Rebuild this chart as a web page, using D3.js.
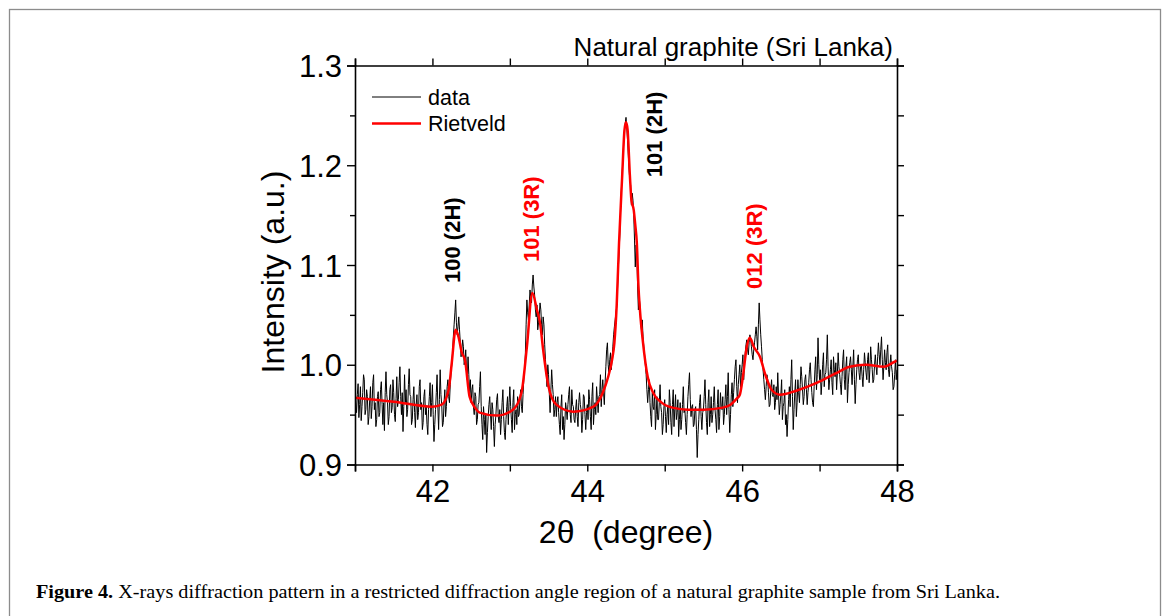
<!DOCTYPE html>
<html><head><meta charset="utf-8">
<script src="https://cdn.jsdelivr.net/npm/d3@7/dist/d3.min.js"></script>
<style>body{margin:0;background:#fff}svg{display:block}</style>
</head><body>
<svg id="c" width="1170" height="616"></svg>
<script>
// 2theta sampled every 0.01 deg from 41.00 to 48.00
const dataStart = 41.0, dataStep = 0.01;
const dataIntensity = [
0.975,0.962,0.952,0.970,0.981,0.947,0.960,0.978,0.944,0.958,0.972,0.990,0.985,0.950,0.955,0.975,0.968,0.940,0.948,0.965,
0.978,0.946,0.958,0.982,0.990,0.955,0.962,0.938,0.945,0.968,0.973,0.948,0.952,0.975,0.983,0.960,0.940,0.962,0.934,0.972,
0.993,0.970,0.962,0.940,0.948,0.975,0.980,0.952,0.957,0.985,0.972,0.950,0.943,0.966,0.988,0.958,0.965,0.982,0.998,0.968,
0.950,0.972,0.933,0.958,0.990,0.962,0.975,0.948,0.955,0.980,0.996,0.970,0.968,0.940,0.945,0.965,0.978,0.952,0.937,0.960,
0.970,0.945,0.952,0.978,0.985,0.955,0.962,0.935,0.942,0.968,0.975,0.950,0.958,0.940,0.930,0.955,0.968,0.982,0.948,0.962,
0.980,0.950,0.923,0.940,0.955,0.972,0.990,0.958,0.935,0.965,0.995,0.970,0.960,0.938,0.942,0.962,0.975,0.948,0.958,0.978,
0.985,0.968,0.962,0.980,0.992,1.000,1.012,1.028,1.040,1.052,1.065,1.042,1.030,1.038,1.048,1.035,1.022,1.008,1.015,1.025,
1.018,1.000,1.005,1.015,0.995,0.985,1.008,0.990,0.972,0.985,0.962,0.975,0.980,0.958,0.950,0.972,0.968,0.940,0.945,0.960,
0.962,0.978,0.993,0.958,0.940,0.925,0.958,0.945,0.930,0.950,0.912,0.932,0.948,0.960,0.968,0.950,0.935,0.962,0.955,0.938,
0.918,0.940,0.950,0.965,0.971,0.948,0.942,0.955,0.930,0.945,0.962,0.975,0.948,0.932,0.925,0.945,0.958,0.968,0.940,0.962,
0.978,0.958,0.945,0.932,0.962,0.975,0.935,0.950,0.955,0.940,0.968,0.948,0.950,0.965,0.975,0.958,0.952,0.970,0.985,0.995,
1.010,1.040,1.065,1.052,1.045,1.060,1.075,1.068,1.062,1.080,1.090,1.078,1.070,1.055,1.048,1.060,1.035,1.042,1.050,1.062,
1.055,1.040,1.030,1.048,1.040,1.020,1.005,0.992,0.978,1.000,0.990,0.970,0.952,0.975,0.995,0.980,0.970,0.948,0.955,0.968,
0.948,0.962,0.968,0.952,0.940,0.930,0.958,0.970,0.935,0.948,0.925,0.940,0.962,0.955,0.945,0.960,0.970,0.978,0.950,0.942,
0.975,0.960,0.958,0.945,0.942,0.955,0.965,0.948,0.938,0.962,0.972,0.960,0.955,0.932,0.945,0.970,0.968,0.950,0.935,0.952,
0.960,0.945,0.975,0.965,0.948,0.935,0.968,0.982,0.940,0.955,0.962,0.950,0.978,0.965,0.952,0.968,0.970,0.990,0.958,0.975,
0.985,0.972,0.960,0.982,0.998,1.015,1.022,1.000,0.990,1.005,1.012,0.995,1.005,1.018,1.030,1.038,1.045,1.052,1.058,1.075,
1.095,1.112,1.130,1.155,1.175,1.192,1.205,1.222,1.235,1.242,1.248,1.238,1.225,1.210,1.195,1.185,1.180,1.160,1.172,1.165,
1.150,1.125,1.098,1.120,1.110,1.078,1.055,1.068,1.060,1.042,1.035,1.045,1.028,1.018,1.010,1.000,0.990,0.975,0.962,0.975,
0.985,0.962,0.948,0.938,0.972,0.958,0.955,0.975,0.935,0.950,0.968,0.945,0.945,0.962,0.980,0.958,0.952,0.930,0.940,0.958,
0.965,0.948,0.932,0.950,0.958,0.940,0.975,0.962,0.942,0.930,0.960,0.975,0.938,0.955,0.970,0.945,0.952,0.965,0.928,0.945,
0.962,0.935,0.945,0.960,0.978,0.952,0.955,0.942,0.930,0.950,0.968,0.980,0.992,0.965,0.948,0.958,0.960,0.938,0.940,0.955,
0.958,0.935,0.907,0.930,0.945,0.962,0.970,0.948,0.935,0.952,0.955,0.968,0.985,0.960,0.942,0.930,0.962,0.975,0.938,0.950,
0.968,0.942,0.950,0.962,0.978,0.955,0.945,0.932,0.960,0.975,0.935,0.948,0.972,0.958,0.955,0.968,0.940,0.950,0.965,0.980,
0.950,0.968,0.992,0.955,0.932,0.950,0.970,0.982,0.958,0.972,0.985,0.998,1.005,0.978,0.962,0.980,0.990,1.000,0.975,0.992,
1.000,1.010,0.985,1.002,1.012,1.020,1.025,1.015,1.010,1.022,1.030,1.025,1.018,1.010,1.005,1.015,1.022,1.030,1.038,1.028,
1.015,1.040,1.062,1.045,1.030,1.018,1.005,0.995,0.985,0.975,0.965,0.978,0.990,0.985,0.972,0.958,0.960,0.975,0.985,0.970,
0.968,0.980,0.955,0.962,0.978,0.965,0.992,0.970,0.950,0.960,0.970,0.985,0.945,0.958,0.962,0.975,0.940,0.950,0.928,0.945,
0.965,0.978,0.958,0.985,1.005,0.968,0.935,0.955,0.972,0.985,0.948,0.962,0.985,0.972,0.962,0.980,0.998,0.988,0.975,0.960,
0.968,0.985,0.990,0.975,0.960,0.972,0.982,0.995,1.002,0.985,0.972,0.962,0.958,0.978,0.995,1.008,0.975,0.990,1.027,1.000,
0.985,0.995,0.970,0.982,1.000,1.012,0.978,0.990,0.992,1.005,1.030,0.998,0.975,0.985,0.995,1.005,0.982,0.970,1.008,0.995,
0.988,1.002,0.975,0.992,1.012,0.998,0.990,0.980,0.970,0.988,1.005,1.015,0.985,0.975,0.998,1.008,0.962,0.980,0.992,1.002,
1.008,0.995,0.980,0.998,1.015,0.985,0.961,0.980,0.995,1.005,1.010,0.992,0.985,0.998,1.000,0.988,0.978,0.995,1.012,1.002,
0.992,0.985,1.005,1.012,0.982,0.995,1.018,1.005,0.995,0.982,0.985,1.000,1.010,0.998,0.990,1.008,1.022,1.010,1.000,1.015,
1.028,1.005,0.985,0.998,1.015,1.002,0.995,1.012,1.020,0.995,0.988,1.000,1.010,0.998,0.992,0.975,0.978,0.990,1.005,0.985,
0.995
];
const rietAngle = [41.0,41.5,42.0,42.12,42.21,42.25,42.30,42.34,42.38,42.42,42.48,42.55,42.61,42.83,43.04,43.15,43.22,43.29,43.35,43.39,43.43,43.50,43.60,43.82,44.08,44.20,44.27,44.32,44.35,44.38,44.41,44.45,44.48,44.50,44.52,44.55,44.57,44.60,44.62,44.64,44.66,44.68,44.72,44.78,44.85,44.96,45.10,45.30,45.50,45.75,45.85,45.93,45.97,46.01,46.06,46.10,46.15,46.23,46.30,46.38,46.49,46.70,46.97,47.20,47.39,47.60,47.83,47.97,48.0];
const rietIntensity = [0.967,0.963,0.958,0.960,0.975,1.002,1.035,1.027,1.012,1.005,0.968,0.957,0.952,0.949,0.955,0.972,1.018,1.072,1.055,1.042,1.015,0.978,0.960,0.953,0.958,0.972,0.988,1.005,1.022,1.060,1.122,1.188,1.235,1.243,1.236,1.190,1.165,1.155,1.140,1.122,1.080,1.055,1.022,0.988,0.972,0.962,0.957,0.955,0.955,0.957,0.960,0.966,0.970,0.988,1.018,1.027,1.018,1.008,0.990,0.975,0.970,0.974,0.982,0.991,0.998,1.000,0.998,1.003,1.004];
const xTicks = [41,42,43,44,45,46,47,48];
const xLabels = [42,44,46,48];
const yTicks = [0.9,0.95,1.0,1.05,1.1,1.15,1.2,1.25,1.3];
const yLabels = [0.9,1.0,1.1,1.2,1.3];
const peakLabels = [
  {text:"100 (2H)", angle:42.26, level:1.082, color:"#000"},
  {text:"101 (3R)", angle:43.29, level:1.103, color:"#ff0000"},
  {text:"101 (2H)", angle:44.87, level:1.188, color:"#000"},
  {text:"012 (3R)", angle:46.17, level:1.076, color:"#ff0000"}
];
const legendItems = [{name:"data", color:"#000", w:1},{name:"Rietveld", color:"#ff0000", w:2.5}];

const svg = d3.select("#c");
const L=355, R=897, T=65.5, B=464.5;
const x = d3.scaleLinear().domain([41,48]).range([L,R]);
const y = d3.scaleLinear().domain([0.9,1.3]).range([B,T]);
const font = "'Liberation Sans', Arial, sans-serif";

// outer frame
svg.append("rect").attr("x",9.5).attr("y",9.5).attr("width",1151).attr("height",640)
  .attr("fill","none").attr("stroke","#8c8c8c").attr("stroke-width",1.3);

svg.append("defs").append("clipPath").attr("id","pc").append("rect")
  .attr("x",L).attr("y",T).attr("width",R-L).attr("height",B-T);

const dataPts = dataIntensity.map((v,i)=>[dataStart+i*dataStep, v]);
const line = d3.line().x(d=>x(d[0])).y(d=>y(d[1]));
svg.append("path").datum(dataPts).attr("clip-path","url(#pc)")
  .attr("d",line).attr("fill","none").attr("stroke","#000").attr("stroke-width",1);

const rietPts = rietAngle.map((a,i)=>[a, rietIntensity[i]]);
svg.append("path").datum(rietPts).attr("clip-path","url(#pc)")
  .attr("d",line.curve(d3.curveMonotoneX)).attr("fill","none").attr("stroke","#ff0000").attr("stroke-width",2.5);

// axes
const axB = svg.append("g").attr("transform",`translate(0,${B})`)
  .call(d3.axisBottom(x).tickValues(xTicks).tickSize(7).tickFormat(d=>xLabels.includes(d)?d:""));
const axT = svg.append("g").attr("transform",`translate(0,${T})`)
  .call(d3.axisTop(x).tickValues(xTicks).tickSize(7).tickFormat(""));
const axL = svg.append("g").attr("transform",`translate(${L},0)`)
  .call(d3.axisLeft(y).tickValues(yTicks).tickSize(8).tickFormat(d=>yLabels.some(v=>Math.abs(v-d)<1e-9)?d3.format(".1f")(d):""));
const axR = svg.append("g").attr("transform",`translate(${R},0)`)
  .call(d3.axisRight(y).tickValues(yTicks).tickSize(7).tickFormat(""));
axL.selectAll(".tick").filter(d=>!yLabels.some(v=>Math.abs(v-d)<1e-9)).select("line").attr("x2",-5);
[axB,axT,axL,axR].forEach(a=>{
  a.select(".domain").attr("stroke","#000").attr("stroke-width",1.6);
  a.selectAll(".tick line").attr("stroke","#000").attr("stroke-width",1.4);
  a.selectAll("text").attr("font-family",font).attr("font-size",31).attr("fill","#000");
});
axB.selectAll("text").attr("dy","0.95em").attr("y",8);
axL.selectAll("text").attr("x",-13).attr("dy","0.36em");

// axis titles
svg.append("text").attr("transform",`translate(284,272) rotate(-90)`)
  .attr("text-anchor","middle").attr("font-family",font).attr("font-size",32).text("Intensity (a.u.)");
svg.append("text").attr("x",(L+R)/2).attr("y",543).attr("text-anchor","middle")
  .attr("font-family",font).attr("font-size",32).attr("xml:space","preserve")
  .style("white-space","pre").text("2\u03b8  (degree)");
svg.append("text").attr("x",893).attr("y",56).attr("text-anchor","end")
  .attr("font-family",font).attr("font-size",26).text("Natural graphite (Sri Lanka)");

// legend
legendItems.forEach((d,i)=>{
  const yy = 97 + i*26.5;
  svg.append("line").attr("x1",372).attr("x2",421).attr("y1",yy).attr("y2",yy)
    .attr("stroke",d.color).attr("stroke-width",d.w);
  svg.append("text").attr("x",428).attr("y",yy+7.5).attr("font-family",font).attr("font-size",21.5).text(d.name);
});

// peak labels
peakLabels.forEach(p=>{
  svg.append("text").attr("transform",`translate(${x(p.angle)+7},${y(p.level)}) rotate(-90)`)
    .attr("font-family",font).attr("font-size",22).attr("font-weight","bold").attr("fill",p.color).text(p.text);
});

// caption
const cap = svg.append("text").attr("x",36).attr("y",598).attr("font-family","'Liberation Serif','Times New Roman',serif")
  .attr("font-size",19).attr("textLength",964).attr("lengthAdjust","spacingAndGlyphs");
cap.append("tspan").attr("font-weight","bold").text("Figure 4.");
cap.append("tspan").text(" X-rays diffraction pattern in a restricted diffraction angle region of a natural graphite sample from Sri Lanka.");
</script>
</body></html>
